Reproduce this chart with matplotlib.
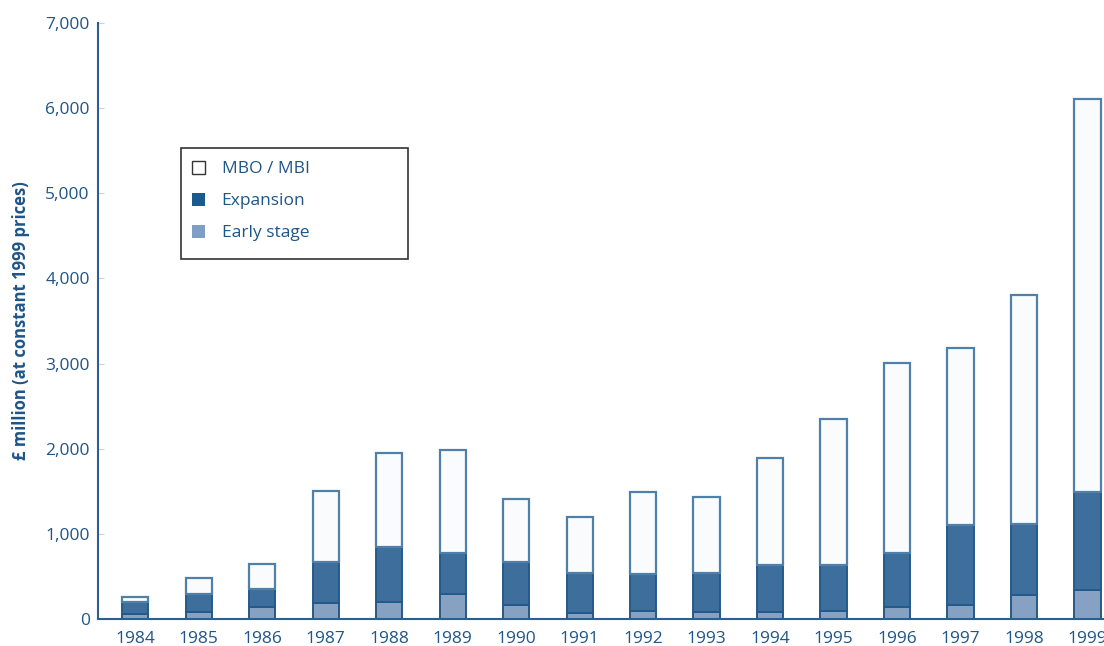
import numpy as np
import matplotlib.pyplot as plt

plt.rcParams['font.family'] = ['Open Sans', 'DejaVu Sans']

# values in £ million (constant 1999 prices)
years = ['1984', '1985', '1986', '1987', '1988', '1989', '1990', '1991',
         '1992', '1993', '1994', '1995', '1996', '1997', '1998', '1999']
early = [62, 82, 137, 191, 196, 294, 161, 67, 94, 79, 86, 90, 140, 160, 286, 341]
expansion = [141, 212, 212, 482, 653, 478, 508, 477, 438, 461, 548, 547, 633, 944, 831, 1149]
mbo = [52, 184, 293, 830, 1101, 1213, 744, 658, 960, 897, 1261, 1716, 2235, 2077, 2689, 4622]
yticks = [0, 1000, 2000, 3000, 4000, 5000, 6000, 7000]

txt = '#1f5587'
edge = '#245a8a'

fig = plt.figure(figsize=(11.04, 6.46), dpi=100)
ax = fig.add_axes([0.0888, 0.0418, 0.9112, 0.9226])

x = np.arange(len(years))
w = 0.41
early = np.array(early); expansion = np.array(expansion); mbo = np.array(mbo)
ax.bar(x, early, w, color='#87a1c2', edgecolor=edge, linewidth=1.4)
ax.bar(x, expansion, w, bottom=early, color='#3d6e9c', edgecolor=edge, linewidth=1.4)
ax.bar(x, mbo, w, bottom=early + expansion, color='#f9fbfd', edgecolor='#4f80a9', linewidth=1.6)

ax.set_xlim(-0.583, 15.26)
ax.set_ylim(0, 7000)
ax.set_yticks(yticks)
ax.set_yticklabels([f'{v:,}' for v in yticks])
ax.set_xticks(x)
ax.set_xticklabels(years)
ax.tick_params(axis='x', length=0, pad=9, labelsize=12.5, labelcolor=txt)
ax.tick_params(axis='y', direction='in', length=4, color='#c8d2dc', labelsize=12.5,
               labelcolor=txt, pad=6)
for s in ['top', 'right']:
    ax.spines[s].set_visible(False)
for s in ['left', 'bottom']:
    ax.spines[s].set_color('#2b5f8e')
    ax.spines[s].set_linewidth(1.5)

ax.set_ylabel('£ million (at constant 1999 prices)', fontsize=12, fontweight='bold',
              color=txt, labelpad=11)

# legend: frameless entries plus a separate box drawn in figure pixels
handles = [plt.Rectangle((0, 0), 1, 1, facecolor='white', edgecolor='#333333', lw=1),
           plt.Rectangle((0, 0), 1, 1, facecolor='#1b5a8c', edgecolor='none'),
           plt.Rectangle((0, 0), 1, 1, facecolor='#7f9ec4', edgecolor='none')]
leg = fig.legend(handles, ['MBO / MBI', 'Expansion', 'Early stage'],
                 loc='upper left', bbox_to_anchor=(192 / 1104, 1 - 161 / 646),
                 frameon=False, fontsize=12.5, handlelength=0.75,
                 handleheight=0.75, handletextpad=0.95, labelspacing=0.9,
                 borderpad=0, borderaxespad=0)
for t in leg.get_texts():
    t.set_color(txt)
fig.patches.append(plt.Rectangle((181 / 1104, 1 - 259 / 646), 227 / 1104, 111 / 646,
                                 transform=fig.transFigure, fill=False,
                                 edgecolor='#333333', linewidth=1.2))

fig.savefig('out.png', dpi=100)
